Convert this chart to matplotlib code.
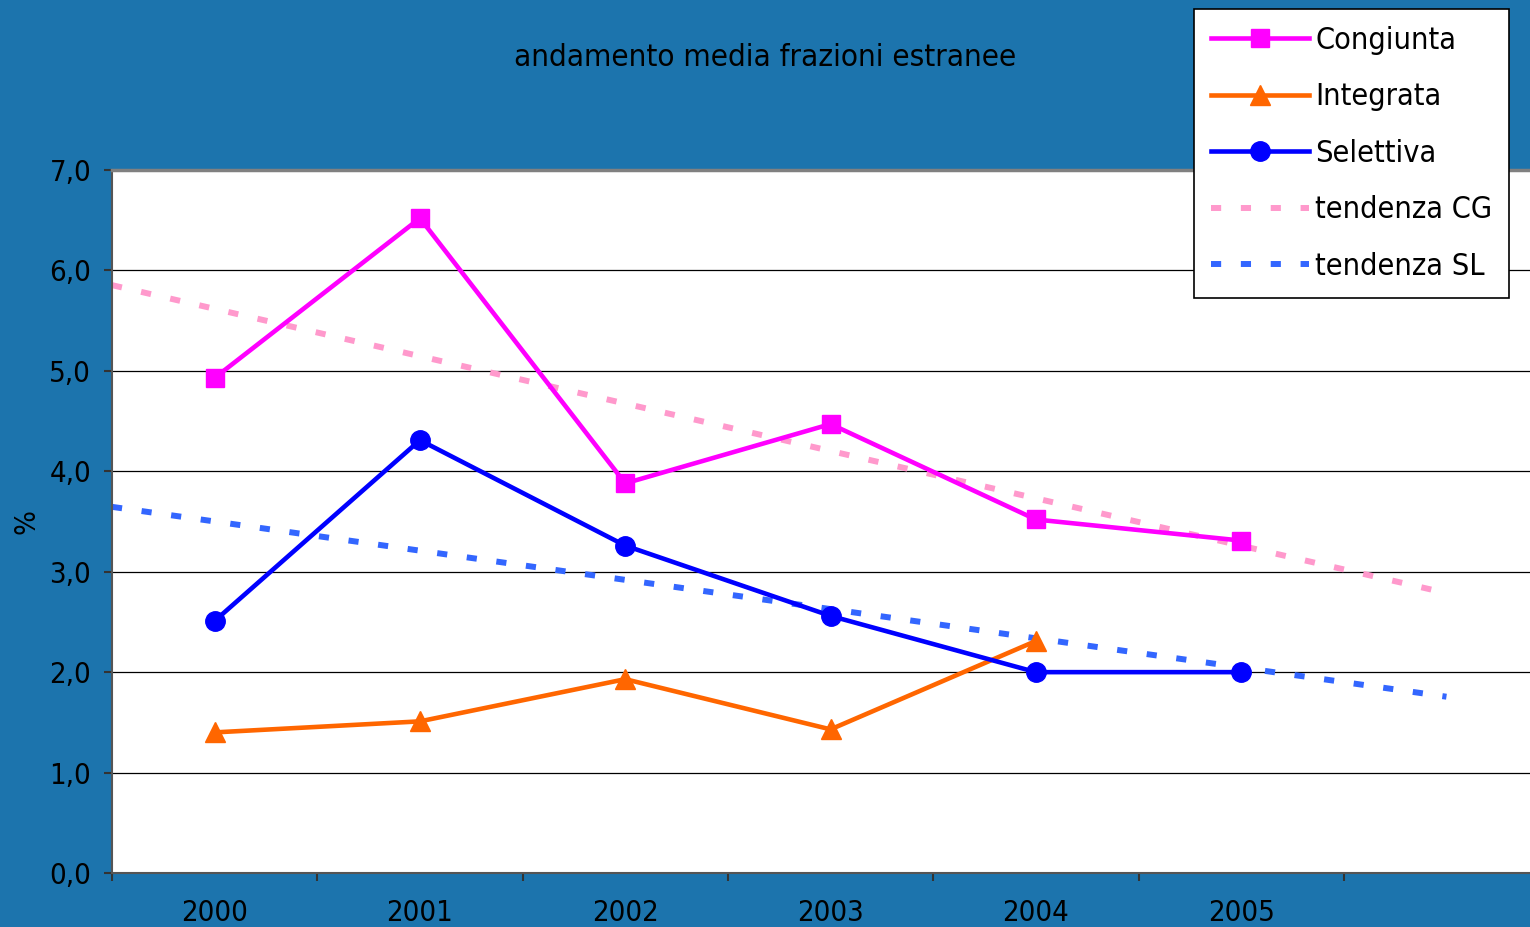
import numpy as np
import matplotlib
matplotlib.use("Agg")
import matplotlib.pyplot as plt

plt.rcParams["font.family"] = ["DejaVu Sans"]
plt.rcParams["font.stretch"] = "condensed"

anni = ["2000", "2001", "2002", "2003", "2004", "2005"]
congiunta = [4.93, 6.52, 3.88, 4.47, 3.52, 3.31]
integrata = [1.40, 1.51, 1.93, 1.43, 2.31]
selettiva = [2.51, 4.31, 3.26, 2.56, 2.00, 2.00]

bg = "#1C74AD"

fig = plt.figure(figsize=(15.3, 9.27), dpi=100, facecolor=bg)
ax = fig.add_axes([112 / 1530, 1 - 873 / 927, 7 * 205.3 / 1530, 703 / 927])
ax.set_facecolor("white")

x = np.arange(len(anni))

# linee di tendenza lineari (regressione come in Excel, con previsione di un periodo)
xt = np.array([-0.5, 6.0])
for serie, col, lab in [(congiunta, "#FF99CC", "tendenza CG"), (selettiva, "#3366FF", "tendenza SL")]:
    k, q = np.polyfit(x, serie, 1)
    ax.plot(xt, k * xt + q, color=col, lw=4.3, dashes=(1.7, 3.3), solid_capstyle="butt",
            dash_capstyle="butt", label=lab, zorder=2)

ax.plot(x, congiunta, color="#FF00FF", lw=3.3, marker="s", ms=13, label="Congiunta", zorder=3)
ax.plot(x[:len(integrata)], integrata, color="#FF6600", lw=3.3, marker="^", ms=15, label="Integrata", zorder=3)
ax.plot(x, selettiva, color="#0000FF", lw=3.3, marker="o", ms=14, label="Selettiva", zorder=3)

ax.set_xlim(-0.5, 6.5)
ax.set_ylim(0, 7)
ax.set_yticks(np.arange(0, 8, 1))
ax.set_yticklabels([f"{v:.1f}".replace(".", ",") for v in np.arange(0, 8, 1)])
ax.set_xticks(x)
ax.set_xticklabels(anni)
ax.set_xticks(np.arange(-0.5, 7, 1), minor=True)
ax.tick_params(axis="x", which="major", length=0, pad=19, labelsize=21)
ax.tick_params(axis="x", which="minor", length=6, width=1.5, direction="out", color="#333333")
ax.tick_params(axis="y", length=6, width=1.5, direction="out", pad=9, labelsize=21, color="#333333")
ax.grid(axis="y", color="black", lw=0.9)
ax.set_axisbelow(True)

ax.spines["top"].set_color("#808080")
ax.spines["top"].set_linewidth(2.5)
ax.spines["right"].set_visible(False)
for s in ("left", "bottom"):
    ax.spines[s].set_color("#555555")
    ax.spines[s].set_linewidth(1.5)

ax.set_ylabel("%", fontsize=21, labelpad=6)
fig.text(0.5, 1 - 58 / 927, "andamento media frazioni estranee", ha="center", va="center", fontsize=22.5)

handles, labels = ax.get_legend_handles_labels()
order = [2, 3, 4, 0, 1]
leg = fig.legend([handles[i] for i in order], [labels[i] for i in order],
                 loc="upper right", bbox_to_anchor=(1509 / 1530, 1 - 9 / 927), borderaxespad=0,
                 fontsize=22, handlelength=3.2, labelspacing=0.9, handletextpad=0.2,
                 borderpad=0.55, numpoints=1, fancybox=False, framealpha=1, edgecolor="black")
leg.get_frame().set_linewidth(1.2)

fig.savefig("out.png", dpi=100, facecolor=bg)
